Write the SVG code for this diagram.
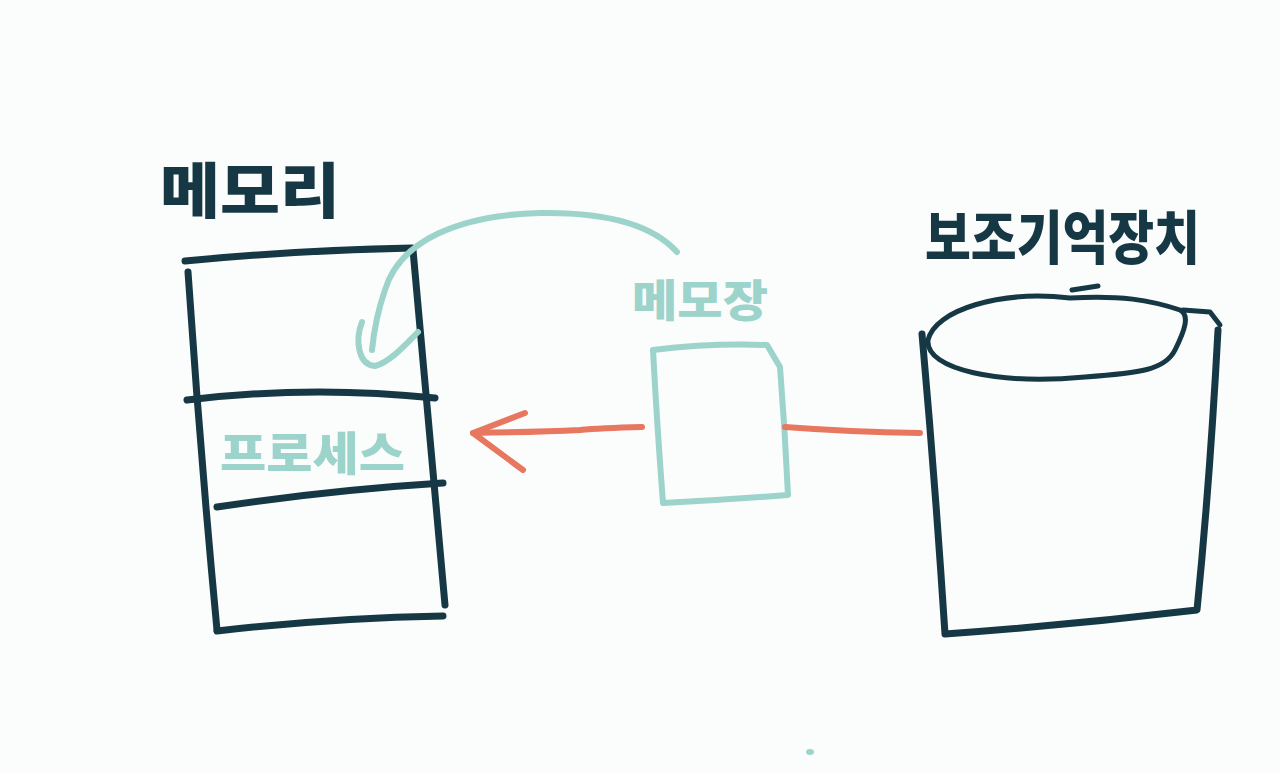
<svg xmlns="http://www.w3.org/2000/svg" width="1280" height="774" viewBox="0 0 1280 774">
<style>
.dark{fill:none;stroke:#163845;stroke-width:7;stroke-linecap:round;stroke-linejoin:round}
.darkthin{fill:none;stroke:#163845;stroke-width:5;stroke-linecap:round;stroke-linejoin:round}
.teal{fill:none;stroke:#9cd3cb;stroke-width:6;stroke-linecap:round;stroke-linejoin:round}
.orange{fill:none;stroke:#e8775f;stroke-width:6;stroke-linecap:round;stroke-linejoin:round}
.tdark{fill:#163845;font-family:"Noto Sans CJK KR",sans-serif;font-weight:900}
.tteal{fill:#9cd3cb;font-family:"Noto Sans CJK KR",sans-serif;font-weight:900}
</style>
<rect width="1280" height="774" fill="#fbfcfc"/>
<g id="memory">
<text class="tdark" x="160" y="213" font-size="60" textLength="180" lengthAdjust="spacingAndGlyphs">메모리</text>
<path class="dark" d="M185 261 Q300 250 412 248"/>
<path class="dark" d="M188 272 Q200 450 217 630"/>
<path class="dark" d="M413 250 Q430 430 445 605"/>
<path class="dark" d="M187 400 Q310 385 435 398"/>
<path class="dark" d="M217 507 Q330 490 443 483"/>
<path class="dark" d="M217 631 Q330 618 443 616"/>
<text class="tteal" x="220" y="470" font-size="46" textLength="185" lengthAdjust="spacingAndGlyphs">프로세스</text>
</g>
<g id="memo">
<text class="tteal" x="632" y="317" font-size="44" textLength="136" lengthAdjust="spacingAndGlyphs">메모장</text>
<path class="teal" d="M653 350 Q710 343 767 345 L780 367 Q785 430 788 495 Q725 500 663 503 Q657 425 653 350"/>
</g>
<g id="storage">
<text class="tdark" x="925" y="259" font-size="58" textLength="275" lengthAdjust="spacingAndGlyphs">보조기억장치</text>
<path class="darkthin" d="M1070 298 C1000 290 935 310 928 340 C925 370 1000 385 1085 377 C1140 373 1165 370 1175 350 C1185 330 1190 315 1180 310 C1150 300 1120 295 1070 298"/>
<path class="darkthin" d="M1072 290 L1098 286"/>
<path class="darkthin" d="M1183 310 L1210 312 L1220 325"/>
<path class="dark" d="M922 334 Q935 480 945 634 Q1070 625 1197 610 Q1210 480 1218 330"/>
</g>
<g id="connectors">
<path class="teal" d="M677 252 C650 222 600 212 540 213 C460 215 400 240 385 290 C378 310 374 330 372 350"/>
<path class="teal" d="M362 322 C355 340 358 365 375 366 C390 362 405 345 418 332"/>
<path class="orange" d="M642 427 Q600 428 580 430 Q540 432 473 433"/>
<path class="orange" d="M525 413 L473 433 L523 470"/>
<path class="orange" d="M785 427 Q850 432 920 433"/>
</g>
<ellipse cx="810" cy="752" rx="4" ry="3" fill="#9cd3cb"/>
</svg>
